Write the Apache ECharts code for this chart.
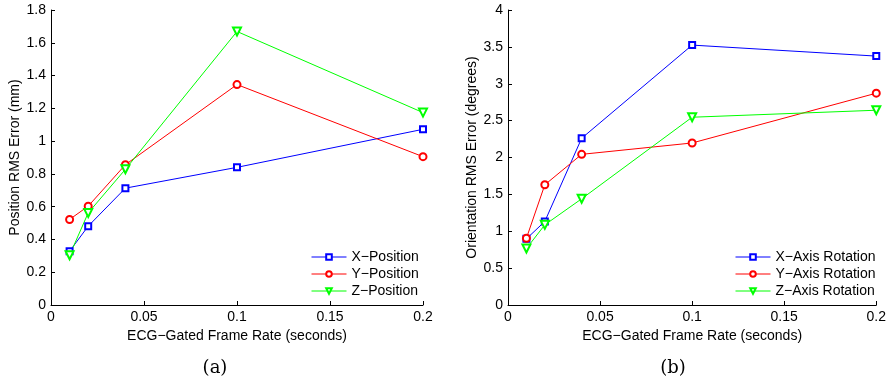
<!DOCTYPE html>
<html>
<head>
<meta charset="utf-8">
<script src="https://cdn.jsdelivr.net/npm/echarts@6/dist/echarts.min.js"></script>
<style>html,body{margin:0;padding:0;background:#fff}#c{width:889px;height:383px}</style>
</head>
<body>
<div id="c"></div>
<script>
const frameRates = [0.01, 0.02, 0.04, 0.1, 0.2];
const xPosition = [0.328, 0.481, 0.713, 0.840, 1.072];
const yPosition = [0.522, 0.603, 0.856, 1.345, 0.905];
const zPosition = [0.304, 0.562, 0.828, 1.669, 1.174];
const xRotation = [0.897, 1.133, 2.261, 3.524, 3.375];
const yRotation = [0.905, 1.630, 2.043, 2.197, 2.872];
const zRotation = [0.766, 1.087, 1.440, 2.546, 2.641];
const posNames = ['X\u2212Position', 'Y\u2212Position', 'Z\u2212Position'];
const rotNames = ['X\u2212Axis Rotation', 'Y\u2212Axis Rotation', 'Z\u2212Axis Rotation'];
const xLabel = 'ECG\u2212Gated Frame Rate (seconds)';
const yLabelA = 'Position RMS Error (mm)';
const yLabelB = 'Orientation RMS Error (degrees)';

const FONT = 'Liberation Sans';
const FS = 14;
const colors = ['#0000ff', '#ff0000', '#00ff00'];
const symbols = ['emptyRect', 'emptyCircle', 'emptyTriangle'];
const symSizes = [6, 7, 8];
const rots = [0, 0, 180];

function pairs(vals) { return frameRates.map((x, i) => [x, vals[i]]); }

function xAxisCfg(gi) {
  return {
    gridIndex: gi, type: 'value', min: 0, max: 0.2, interval: 0.05,
    name: xLabel, nameLocation: 'middle', nameGap: 20,
    nameTextStyle: {fontFamily: FONT, fontSize: FS, color: '#000'},
    axisLine: {show: true, lineStyle: {color: '#000', width: 1}},
    axisTick: {show: true, inside: true, length: 4, lineStyle: {color: '#000'}},
    axisLabel: {fontFamily: FONT, fontSize: FS, color: '#000', margin: 5},
    splitLine: {show: false}
  };
}
function yAxisCfg(gi, max, interval, name, gap) {
  return {
    gridIndex: gi, type: 'value', min: 0, max: max, interval: interval,
    name: name, nameLocation: 'middle', nameGap: gap,
    nameTextStyle: {fontFamily: FONT, fontSize: FS, color: '#000'},
    axisLine: {show: true, lineStyle: {color: '#000', width: 1}},
    axisTick: {show: true, inside: true, length: 4, lineStyle: {color: '#000'}},
    axisLabel: {fontFamily: FONT, fontSize: FS, color: '#000', margin: 5},
    splitLine: {show: false}
  };
}
function mkSeries(names, datas, gi) {
  return names.map((n, i) => ({
    name: n, type: 'line', xAxisIndex: gi, yAxisIndex: gi,
    data: pairs(datas[i]), symbol: symbols[i], symbolRotate: rots[i], symbolSize: symSizes[i],
    showAllSymbol: true,
    lineStyle: {color: colors[i], width: 1},
    itemStyle: {color: colors[i], borderWidth: 1},
    emphasis: {disabled: true}, animation: false
  }));
}
function legendCfg(names, left) {
  return {
    data: names, orient: 'vertical', left: left, top: 245, itemWidth: 35, itemHeight: 7, itemGap: 3,
    textStyle: {fontFamily: FONT, fontSize: FS, color: '#000'},
    itemStyle: {borderWidth: 1}, lineStyle: {width: 1},
    selectedMode: false
  };
}

const chart = echarts.init(document.getElementById('c'), null, {renderer: 'canvas'});
chart.setOption({
  backgroundColor: '#fff',
  animation: false,
  grid: [
    {left: 51, top: 10, width: 372, height: 295},
    {left: 508, top: 10, width: 372, height: 295}
  ],
  xAxis: [xAxisCfg(0), xAxisCfg(1)],
  yAxis: [yAxisCfg(0, 1.8, 0.2, yLabelA, 29), yAxisCfg(1, 4, 0.5, yLabelB, 29)],
  legend: [legendCfg(posNames, 306), legendCfg(rotNames, 730)],
  series: mkSeries(posNames, [xPosition, yPosition, zPosition], 0)
    .concat(mkSeries(rotNames, [xRotation, yRotation, zRotation], 1)),
  graphic: [
    {type: 'text', x: 215, y: 368, style: {text: '(a)', font: '18px "DejaVu Serif"', fill: '#000', align: 'center', verticalAlign: 'middle'}},
    {type: 'text', x: 673, y: 368, style: {text: '(b)', font: '18px "DejaVu Serif"', fill: '#000', align: 'center', verticalAlign: 'middle'}}
  ]
});
</script>
</body>
</html>
